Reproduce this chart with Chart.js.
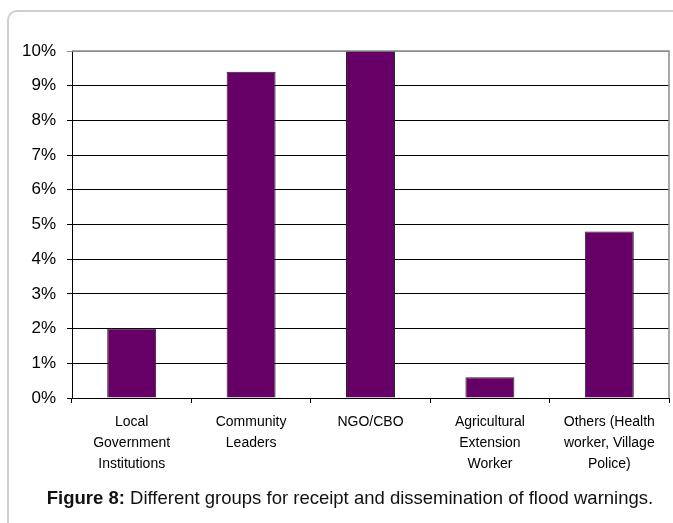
<!DOCTYPE html>
<html>
<head>
<meta charset="utf-8">
<script src="https://cdn.jsdelivr.net/npm/chart.js@4/dist/chart.umd.min.js"></script>
<style>
  html, body { margin: 0; padding: 0; background: #fff; }
  body { width: 673px; height: 523px; position: relative; overflow: hidden; font-family: "Liberation Sans", Arial, sans-serif; }
  #frame { position: absolute; left: 7px; top: 10px; width: 720px; height: 600px; border: 2px solid #cfcfcf; border-radius: 10px; box-sizing: border-box; }
  #wrap { position: absolute; left: 0; top: 0; width: 673px; height: 523px; }
  #caption { position: absolute; left: 0; width: 700px; top: 487px; text-align: center; font-size: 18.5px; line-height: 21px; color: #111; white-space: nowrap; }
  #caption b { font-weight: bold; }
</style>
</head>
<body>
<div id="frame"></div>
<div id="wrap"><canvas id="c" width="673" height="523"></canvas></div>
<div id="caption"><b>Figure 8:</b> Different groups for receipt and dissemination of flood warnings.</div>
<script>
// Groups (multi-line category labels) and their share of respondents, in percent
const groups = [
  ["Local", "Government", "Institutions"],
  ["Community", "Leaders"],
  ["NGO/CBO"],
  ["Agricultural", "Extension", "Worker"],
  ["Others (Health", "worker, Village", "Police)"]
];
const shares = [2.0, 9.4, 10.0, 0.6, 4.8];
const yTicks = [0, 1, 2, 3, 4, 5, 6, 7, 8, 9, 10];

const FONT = "'Liberation Sans', Arial, sans-serif";

// Grey frame on the top and right edges of the plot area
const plotFrame = {
  id: 'plotFrame',
  afterDraw(chart) {
    const { ctx, chartArea: a } = chart;
    ctx.save();
    ctx.strokeStyle = '#8c8c8c';
    ctx.lineWidth = 1.5;
    ctx.beginPath();
    ctx.moveTo(a.left, a.top);
    ctx.lineTo(a.right, a.top);
    ctx.lineTo(a.right, a.bottom);
    ctx.stroke();
    ctx.restore();
  }
};

new Chart(document.getElementById('c'), {
  type: 'bar',
  data: {
    labels: groups,
    datasets: [{
      data: shares,
      backgroundColor: '#660066',
      borderColor: '#222222',
      borderWidth: 1,
      borderSkipped: 'bottom',
      categoryPercentage: 1.0,
      barPercentage: 0.41
    }]
  },
  options: {
    responsive: false,
    animation: false,
    devicePixelRatio: 1,
    layout: { padding: { top: 51, right: 4, bottom: 0, left: 0 } },
    plugins: { legend: { display: false }, tooltip: { enabled: false } },
    scales: {
      x: {
        grid: {
          offset: true,
          drawOnChartArea: false,
          color: '#000',
          tickLength: 5
        },
        border: { color: '#000', width: 1 },
        ticks: {
          color: '#000',
          padding: 9,
          maxRotation: 0,
          autoSkip: false,
          font: { family: FONT, size: 14, lineHeight: 1.5 }
        },
        afterFit(scale) { scale.height = 125; }
      },
      y: {
        min: 0,
        max: 10,
        afterBuildTicks(scale) { scale.ticks = yTicks.map(v => ({ value: v })); },
        grid: {
          color: ctx => (ctx.tick && ctx.tick.value === 10) ? '#8c8c8c' : '#000',
          tickLength: 5,
          lineWidth: 1
        },
        border: { color: '#000', width: 1 },
        ticks: {
          color: '#000',
          padding: 11,
          font: { family: FONT, size: 17 },
          callback: v => v + '%'
        },
        afterFit(scale) { scale.width = 72; }
      }
    }
  },
  plugins: [plotFrame]
});
</script>
</body>
</html>
